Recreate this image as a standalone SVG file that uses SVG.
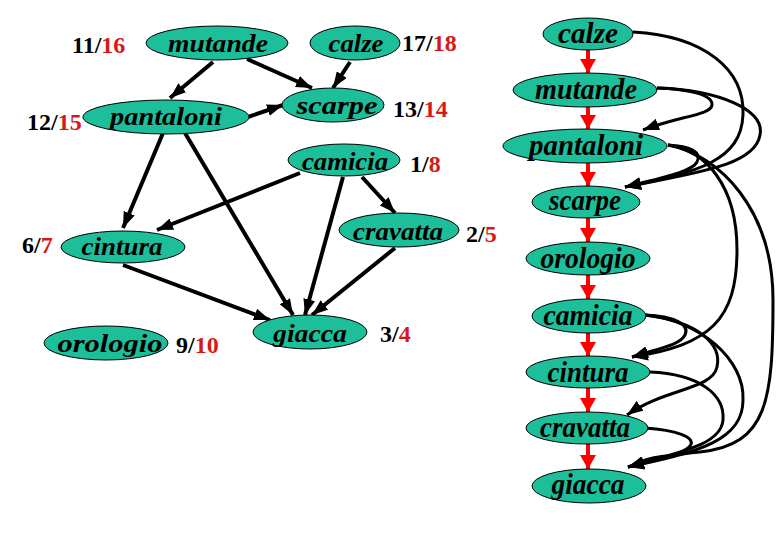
<svg xmlns="http://www.w3.org/2000/svg" width="780" height="540" viewBox="0 0 780 540">
<defs>
<marker id="ab" markerUnits="userSpaceOnUse" markerWidth="16" markerHeight="12" refX="16" refY="6" orient="auto">
<path d="M0,0 L16,6 L0,12 z" fill="#000"/>
</marker>
<marker id="ar" markerUnits="userSpaceOnUse" markerWidth="14" markerHeight="16" refX="14" refY="8" orient="auto">
<path d="M0,0 L14,8 L0,16 z" fill="#f00"/>
</marker>
<style>
.n ellipse{fill:#1DBE9A;stroke:#000;stroke-width:1}
.n text{font-family:"Liberation Serif","Times New Roman","DejaVu Serif",serif;font-style:italic;font-weight:bold;font-size:26px;fill:#000;text-anchor:middle}
.rt text{font-size:29px}
.lab{font-family:"Liberation Serif","Times New Roman","DejaVu Serif",serif;font-weight:bold;font-size:24px;fill:#000}
.r{fill:#d81818}
.e line,.e path{stroke:#000;stroke-width:4;fill:none;marker-end:url(#ab)}
.c path{stroke:#000;stroke-width:3;fill:none;marker-end:url(#ab)}
.red line{stroke:#f00;stroke-width:4;marker-end:url(#ar)}
</style>
</defs>
<rect width="780" height="540" fill="#fff"/>

<g id="edges-left" class="e">
<line x1="213" y1="62" x2="170" y2="98"/>
<line x1="247" y1="59" x2="312" y2="88"/>
<line x1="350" y1="62" x2="333" y2="88"/>
<line x1="248" y1="117" x2="283" y2="105"/>
<line x1="163" y1="133" x2="123" y2="228"/>
<line x1="185" y1="133" x2="293" y2="315"/>
<line x1="300" y1="173" x2="157" y2="230"/>
<line x1="343" y1="177" x2="305" y2="315"/>
<line x1="362" y1="177" x2="395" y2="213"/>
<line x1="395" y1="248" x2="312" y2="315"/>
<line x1="123" y1="265" x2="270" y2="320"/>
</g>

<g id="n-mutande" class="n"><ellipse cx="217" cy="43" rx="71" ry="17"/><text x="218" y="52" textLength="100" lengthAdjust="spacingAndGlyphs">mutande</text></g>
<g id="n-calze" class="n"><ellipse cx="355" cy="43" rx="45" ry="17"/><text x="356" y="52" textLength="55" lengthAdjust="spacingAndGlyphs">calze</text></g>
<g id="n-scarpe" class="n"><ellipse cx="333" cy="105" rx="51" ry="17"/><text x="337" y="114" textLength="81" lengthAdjust="spacingAndGlyphs">scarpe</text></g>
<g id="n-pantaloni" class="n"><ellipse cx="166" cy="117" rx="83" ry="17"/><text x="166" y="125" textLength="112" lengthAdjust="spacingAndGlyphs">pantaloni</text></g>
<g id="n-camicia" class="n"><ellipse cx="344" cy="160" rx="56" ry="16"/><text x="345" y="170" textLength="86" lengthAdjust="spacingAndGlyphs">camicia</text></g>
<g id="n-cravatta" class="n"><ellipse cx="399" cy="230" rx="60" ry="17"/><text x="398" y="240" textLength="90" lengthAdjust="spacingAndGlyphs">cravatta</text></g>
<g id="n-cintura" class="n"><ellipse cx="123" cy="247" rx="62" ry="16"/><text x="122" y="255" textLength="81" lengthAdjust="spacingAndGlyphs">cintura</text></g>
<g id="n-giacca" class="n"><ellipse cx="310" cy="332" rx="57" ry="17"/><text x="310" y="342" textLength="74" lengthAdjust="spacingAndGlyphs">giacca</text></g>
<g id="n-orologio" class="n"><ellipse cx="106" cy="343" rx="62" ry="17"/><text x="110" y="352" textLength="105" lengthAdjust="spacingAndGlyphs">orologio</text></g>

<g id="labels">
<text class="lab" x="72" y="53">11/<tspan class="r">16</tspan></text>
<text class="lab" x="402" y="51">17/<tspan class="r">18</tspan></text>
<text class="lab" x="27" y="130">12/<tspan class="r">15</tspan></text>
<text class="lab" x="393" y="117">13/<tspan class="r">14</tspan></text>
<text class="lab" x="410" y="172">1/<tspan class="r">8</tspan></text>
<text class="lab" x="22" y="253">6/<tspan class="r">7</tspan></text>
<text class="lab" x="466" y="242">2/<tspan class="r">5</tspan></text>
<text class="lab" x="380" y="342">3/<tspan class="r">4</tspan></text>
<text class="lab" x="176" y="353">9/<tspan class="r">10</tspan></text>
</g>

<g id="edges-order" class="red">
<line x1="588" y1="50" x2="588" y2="73"/>
<line x1="588" y1="107" x2="588" y2="129"/>
<line x1="588" y1="163" x2="588" y2="186"/>
<line x1="588" y1="218" x2="588" y2="242"/>
<line x1="588" y1="275" x2="588" y2="299"/>
<line x1="588" y1="333" x2="588" y2="356"/>
<line x1="588" y1="388" x2="588" y2="412"/>
<line x1="588" y1="444" x2="588" y2="469"/>
</g>

<g id="edges-right" class="c">
<path d="M633,32 C705,36 745,70 743,115 C741,160 700,172 625,187"/>
<path d="M657,88 C690,89 713,95 712,105 C711,115 680,116 643,130"/>
<path d="M657,88 C720,90 765,110 760,135 C755,165 700,172 625,187"/>
<path d="M668,145 C690,146 702,152 697,162 C692,172 660,178 625,187"/>
<path d="M668,145 C705,150 737,185 737,250 C737,320 710,345 632,357"/>
<path d="M668,145 C720,155 773,210 773,300 C773,400 768,445 700,452 S650,460 628,467"/>
<path d="M645,315 C675,316 690,325 685,335 C680,345 660,348 632,357"/>
<path d="M645,315 C700,322 722,345 717,367 C712,390 665,388 627,415"/>
<path d="M645,315 C700,320 745,360 743,400 C743,440 700,452 628,467"/>
<path d="M650,372 C700,374 725,395 723,420 C721,445 680,452 628,467"/>
<path d="M645,428 C675,430 697,437 690,446 C683,455 655,460 628,467"/>
</g>

<g id="r-calze" class="n rt"><ellipse cx="588" cy="34" rx="45" ry="16"/><text x="588" y="43" textLength="60" lengthAdjust="spacingAndGlyphs">calze</text></g>
<g id="r-mutande" class="n rt"><ellipse cx="585" cy="90" rx="72" ry="17"/><text x="586" y="99" textLength="102" lengthAdjust="spacingAndGlyphs">mutande</text></g>
<g id="r-pantaloni" class="n rt"><ellipse cx="585" cy="146" rx="82" ry="17"/><text x="586" y="155" textLength="114" lengthAdjust="spacingAndGlyphs">pantaloni</text></g>
<g id="r-scarpe" class="n rt"><ellipse cx="586" cy="202" rx="54" ry="16"/><text x="585" y="210" textLength="72" lengthAdjust="spacingAndGlyphs">scarpe</text></g>
<g id="r-orologio" class="n rt"><ellipse cx="588" cy="258.5" rx="62" ry="16.5"/><text x="588" y="268" textLength="95" lengthAdjust="spacingAndGlyphs">orologio</text></g>
<g id="r-camicia" class="n rt"><ellipse cx="589" cy="316" rx="57" ry="17"/><text x="588" y="325" textLength="89" lengthAdjust="spacingAndGlyphs">camicia</text></g>
<g id="r-cintura" class="n rt"><ellipse cx="588" cy="372" rx="62" ry="16"/><text x="588" y="382" textLength="81" lengthAdjust="spacingAndGlyphs">cintura</text></g>
<g id="r-cravatta" class="n rt"><ellipse cx="587" cy="428" rx="61" ry="16"/><text x="585" y="437" textLength="90" lengthAdjust="spacingAndGlyphs">cravatta</text></g>
<g id="r-giacca" class="n rt"><ellipse cx="589" cy="486" rx="57" ry="17"/><text x="588" y="494" textLength="73" lengthAdjust="spacingAndGlyphs">giacca</text></g>
</svg>
